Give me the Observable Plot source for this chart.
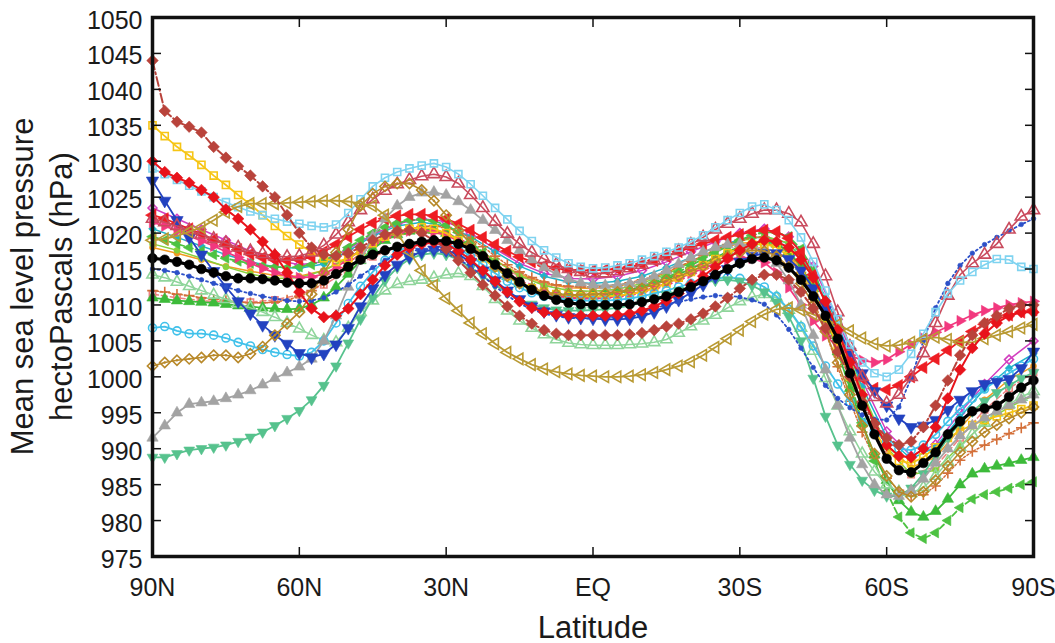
<!DOCTYPE html>
<html><head><meta charset="utf-8">
<script src="https://cdn.jsdelivr.net/npm/d3@7"></script>
<script src="https://cdn.jsdelivr.net/npm/@observablehq/plot@0.6"></script>
<style>html,body{margin:0;padding:0;background:#fff;}</style>
</head><body><div id="chart"></div>
<script>
// ---- grids, ticks, labels ----
const lat25 = d3.range(73).map(i => 90 - 2.5 * i);
const lat5 = d3.range(37).map(i => 90 - 5 * i);
const yTicks = d3.range(975, 1051, 5);
const xTicks = [90, 60, 30, 0, -30, -60, -90];
const xTickLabels = ["90N", "60N", "30N", "EQ", "30S", "60S", "90S"];
const yLabel = ["Mean sea level pressure", "hectoPascals (hPa)"];
const xLabel = "Latitude";

// ---- series values (hPa), 2.5 degree grid from 90N to 90S ----
const multiModelMean = [
1016.5,1016.3,1016,1015.6,1015,1014.5,1014,1013.7,1013.7,1013.6,1013.4,1013.1,
1013,1013,1013.4,1014.3,1015.3,1016.3,1017,1017.6,1018.1,1018.5,1018.8,1019,
1018.9,1018.5,1017.8,1016.8,1015.6,1014.4,1013.2,1012.1,1011.3,1010.7,1010.3,1010.1,
1010,1010,1010,1010.1,1010.4,1010.8,1011.2,1011.8,1012.5,1013.3,1014.2,1015,
1015.8,1016.4,1016.6,1016.2,1015.2,1013.5,1011.2,1008.5,1005.3,1000.5,996,992,
988.6,987,986.7,988,989.5,992,993.8,995.2,995.6,996,997.2,998.5,
999.5];
const brownDiamonds = [
1044,1037,1035.5,1034.8,1034,1032,1030.5,1029.3,1028,1026.5,1025,1022.5,
1020,1018,1017,1016.8,1017.2,1018,1019,1019.8,1020.3,1020.4,1020,1019,
1017.8,1016.2,1014.5,1012.8,1011.3,1009.8,1008.5,1007.4,1006.5,1006,1005.8,1005.8,
1005.8,1005.8,1005.8,1005.9,1006.1,1006.5,1007,1007.4,1008,1008.8,1009.8,1011,
1012.3,1013.5,1014.2,1014.2,1013.5,1011.8,1009.5,1006.8,1003.5,1000,996.5,993.5,
991.5,990.5,991,993,996,999.5,1003,1005.8,1007.5,1008.5,1009.5,1010,
1010];
const yellowSquares = [
1035,1033.5,1032,1030.8,1029.5,1028,1026.7,1025.3,1024,1022.5,1021,1019.6,
1018.4,1017.4,1016.5,1016,1016.5,1017.5,1018.6,1019.5,1020.2,1020.6,1020.8,1020.6,
1020,1019,1017.8,1016.5,1015.2,1014,1013,1012.3,1011.8,1011.5,1011.3,1011.2,
1011.2,1011.2,1011.3,1011.5,1011.8,1012.3,1013,1013.8,1014.6,1015.5,1016.4,1017.2,
1017.9,1018.4,1018.5,1018,1016.8,1014.7,1011.8,1008.2,1004.2,1000,996,992.5,
989.8,988.3,988,988.8,990.2,991.5,992.5,993.3,994,994.5,995,995.5,
996];
const redDiamonds = [
1030,1028.5,1027.7,1027,1026,1025,1023.3,1022,1020.5,1018.8,1017,1014.5,
1011.8,1009.5,1008.3,1008.5,1009.5,1011.5,1013.5,1015.5,1017,1018,1018.5,1018.7,
1018.5,1017.5,1016.3,1014.8,1013.3,1011.8,1010.5,1009.6,1009,1008.7,1008.5,1008.5,
1008.5,1008.5,1008.6,1008.8,1009.2,1009.8,1010.6,1011.6,1012.8,1014,1015.3,1016.5,
1017.6,1018.5,1019,1018.8,1018,1016.3,1013.8,1010.5,1006.5,1002,997.5,993.5,
990.5,989,988.8,990,993,997,1001,1004,1006,1007.5,1008.5,1009,
1009];
const blueTriangles = [
1027.3,1024.5,1021.8,1019.4,1017,1014.7,1012.5,1010.5,1008.8,1007.2,1005.8,1004.6,
1003.3,1002.7,1003.2,1004.5,1006.8,1009.8,1012.3,1014.2,1015.6,1016.7,1017.4,1017.7,
1017.6,1017,1016,1014.8,1013.4,1012,1010.8,1009.8,1009.1,1008.6,1008.3,1008.2,
1008.1,1008,1008,1008.1,1008.4,1009,1009.8,1010.7,1011.7,1012.8,1013.9,1015,
1016,1016.8,1017.2,1017.2,1016.4,1014.8,1012.3,1009.3,1006.5,1003.5,1000.5,998,
996,994.2,993,993.2,994,995.4,996.8,998,999,999.3,999.7,1001.2,
1003.5];
const cyanCircles = [
1006.8,1007,1006.4,1006,1006,1005.8,1005.4,1004.8,1004.3,1003.8,1003.4,1003.1,
1002.9,1003.4,1005,1007.5,1010.2,1012.6,1014.6,1016.2,1017.4,1018.2,1018.7,1018.8,
1018.5,1017.8,1016.8,1015.6,1014.4,1013.3,1012.4,1011.7,1011.2,1010.9,1010.7,1010.6,
1010.6,1010.6,1010.7,1010.9,1011.2,1011.6,1012,1012.5,1013,1013.4,1013.7,1013.8,
1013.7,1013.3,1012.5,1011.2,1009.4,1007,1004.3,1001.5,999,996.5,994.3,992.5,
991,990,989.8,990.5,992,993.8,995.5,997,998.3,999.5,1000.5,1001.5,
1002.5];
const oliveDiamonds = [
1001.5,1002,1002.3,1002.5,1002.7,1003,1003,1002.7,1003.2,1004.2,1005.8,1007.4,
1009,1011.5,1014.5,1017.3,1020.5,1023.8,1025.5,1026.5,1026.9,1026.9,1026,1024.5,
1022.5,1020.4,1018.5,1016.8,1015.3,1014,1013,1012.3,1011.8,1011.5,1011.4,1011.4,
1011.5,1011.6,1011.8,1012,1012.3,1012.8,1013.4,1014,1014.7,1015.4,1016.1,1016.8,
1017.3,1017.6,1017.5,1016.8,1015.3,1013,1010,1006.3,1002,997.5,993.2,989.3,
986.2,984,983.3,984,985.6,987.6,989.5,991,992.3,993.3,994.2,995,
995.8];
const grayTriangles = [
991.5,993.2,995,996.2,996.4,996.6,997,997.5,998.1,998.9,999.8,1000.6,
1001.4,1002.5,1005,1008.5,1012.5,1016.3,1019.5,1022,1023.8,1025,1025.6,1025.7,
1025.3,1024.4,1023.2,1021.8,1020.4,1019,1017.6,1016.3,1015.2,1014.3,1013.6,1013.1,
1012.8,1012.7,1012.8,1013,1013.4,1014,1014.8,1015.7,1016.6,1017.4,1018,1018.4,
1018.5,1018.2,1017.4,1015.8,1013.4,1010,1005.8,1001,996,991.5,987.8,985,
983.6,983.4,984.2,985.8,988,990,991.8,993.2,994.3,995.2,996,996.8,
997.5];
const seaGreenTriangles = [
988.8,988.8,989.3,989.8,990,990.2,990.5,991,991.6,992.3,993.2,994.2,
995.3,996.8,998.8,1001.5,1004.7,1008,1011,1013.4,1015.2,1016.4,1017,1017.2,
1017,1016.3,1015.2,1014,1012.8,1011.7,1010.8,1010.1,1009.6,1009.3,1009.2,1009.2,
1009.3,1009.4,1009.6,1009.9,1010.3,1010.8,1011.4,1012,1012.6,1013.1,1013.4,1013.5,
1013.3,1012.7,1011.8,1010.4,1008.4,1005,999.8,994.5,990.5,987.8,985.6,984.2,
983.4,983.4,984.5,986.5,989,991.5,993.6,995.2,996.6,997.8,998.8,999.8,
1000.6];
const goldTriangles = [
1019,1019.2,1019.6,1020.2,1020.8,1021.8,1022.9,1023.7,1024.1,1024.1,1024.1,1024.2,
1024.3,1024.4,1024.5,1024.5,1024.4,1024.1,1023.8,1022.5,1020,1017.4,1014.8,1012.7,
1010.9,1009.2,1007.5,1006,1004.6,1003.4,1002.5,1001.7,1001.1,1000.7,1000.4,1000.2,
1000.1,1000,1000,1000.1,1000.3,1000.6,1001,1001.5,1002.1,1003,1004.1,1005.3,
1006.5,1007.7,1008.7,1009.4,1009.6,1009.3,1008.7,1008,1007.3,1006.4,1005.4,1004.6,
1004.3,1004.4,1004.8,1005.2,1005.5,1005.2,1004.8,1004.8,1005.3,1005.8,1006.3,1006.8,
1007.3];
const lightCyanSquares = [
1029,1028.2,1027.4,1026.6,1025.8,1025,1024.3,1023.6,1023,1022.5,1022,1021.6,
1021.3,1021,1020.8,1021.2,1022.8,1024.7,1026.5,1027.7,1028.5,1029,1029.4,1029.7,
1029.2,1028.2,1026.8,1025.2,1023.5,1021.9,1020.3,1018.9,1017.6,1016.6,1015.8,1015.3,
1015.1,1015.2,1015.5,1015.8,1016.3,1016.8,1017.4,1018,1018.8,1019.7,1020.8,1021.8,
1022.8,1023.7,1024,1023.2,1021.8,1019.4,1016,1012,1008,1004.5,1002,1000.5,
1000,1001,1003.2,1006,1009,1011.6,1013.4,1014.6,1015.6,1016.4,1016.3,1015.3,
1015];
const roseTriangles = [
1022,1021.5,1021,1020.4,1019.8,1019.2,1018.6,1018,1017.5,1017.1,1016.8,1016.7,
1016.8,1017.3,1018.3,1019.8,1021.5,1023.2,1024.7,1025.9,1026.8,1027.4,1027.9,1028.2,
1027.8,1026.9,1025.3,1023.5,1021.6,1019.9,1018.5,1017.3,1016.4,1015.6,1015,1014.6,
1014.4,1014.4,1014.7,1015.1,1015.6,1016.2,1016.8,1017.5,1018.4,1019.4,1020.5,1021.3,
1022,1022.7,1023.2,1023.2,1022.7,1021.5,1018.5,1014,1009,1004.2,1000,997.2,
996.3,997.5,1000,1003.3,1007.5,1011.3,1014.2,1015.8,1017,1018.5,1020.5,1022.3,
1023.2];
const blueDots = [
1015,1014.8,1014.5,1014,1013.5,1013,1012.5,1012,1011.6,1011.2,1010.9,1010.6,
1010.5,1010.6,1011,1011.8,1012.8,1014,1015.2,1016.2,1017,1017.5,1017.7,1017.6,
1017.2,1016.4,1015.3,1014,1012.6,1011.3,1010.2,1009.4,1008.8,1008.4,1008.2,1008.1,
1008.1,1008.2,1008.4,1008.7,1009.1,1009.5,1010,1010.4,1010.8,1011.1,1011.3,1011.3,
1011.1,1010.7,1010.1,1008.6,1006.6,1004,1001.3,998.8,997,995.7,994.7,994.1,
994,995.8,999.8,1005,1009.6,1013,1015.5,1017.2,1018.4,1019.4,1020.3,1021.2,
1022];
const pinkTriangles = [
1021.5,1021,1020.3,1019.6,1018.9,1018.2,1017.4,1016.6,1015.8,1015.1,1014.5,1014,
1013.8,1013.9,1014.3,1015.2,1016.4,1017.6,1018.6,1019.4,1020,1020.3,1020.4,1020.2,
1019.7,1018.9,1017.8,1016.6,1015.3,1014.1,1013.1,1012.3,1011.7,1011.3,1011,1010.9,
1010.9,1011,1011.2,1011.5,1011.9,1012.4,1013,1013.7,1014.4,1015.1,1015.8,1016.3,
1016.6,1016.5,1015.9,1014.5,1012.4,1010,1007.8,1005.7,1004.2,1003,1002.3,1002,
1002.4,1003.5,1004.5,1005.4,1006.2,1007,1007.8,1008.6,1009.2,1009.6,1010,1010.3,
1010.5];
const lightGreenTriangles = [
1014.2,1013.8,1013.2,1012.6,1012,1011.4,1010.8,1010.2,1009.6,1009,1008.3,1007.5,
1006.7,1005.8,1005.1,1004.8,1006.8,1009,1010.6,1012,1012.9,1013.3,1013.5,1013.8,
1014.2,1014.4,1014,1012.6,1010.8,1009.2,1007.8,1006.8,1005.9,1005.2,1004.7,1004.5,
1004.4,1004.4,1004.4,1004.5,1004.6,1004.8,1005.2,1006.1,1007,1007.8,1008.6,1009.6,
1010.5,1011.1,1011.5,1011,1009.3,1006.8,1003.6,999.8,996,992.4,989.3,986.8,
985,984,983.8,984.6,986.2,988.2,990.2,992,993.6,995,996.2,997.2,
998];
const greenTriangles = [
1011,1010.8,1010.6,1010.5,1010.4,1010.3,1010.1,1009.9,1009.8,1009.6,1009.5,1009.4,
1009.5,1010,1011,1012.5,1014.3,1016.2,1017.8,1019,1019.8,1020.3,1020.5,1020.4,
1020,1019.2,1018,1016.6,1015.2,1014,1013,1012.3,1011.8,1011.5,1011.4,1011.4,
1011.5,1011.6,1011.8,1012.1,1012.5,1013,1013.6,1014.3,1015,1015.8,1016.6,1017.4,
1018.1,1018.6,1018.8,1018.5,1017.4,1015.4,1012.3,1008.3,1003.5,998.4,993.5,989.2,
985.6,982.8,981.2,980.5,981.3,983,985,986.5,987.2,987.6,988,988.4,
988.8];
const greenDashed = [
1019.5,1019,1018.5,1018,1017.5,1017,1016.5,1016.1,1015.8,1015.5,1015.3,1015.2,
1015.3,1015.6,1016.2,1017,1018,1019,1020,1020.8,1021.4,1021.8,1021.9,1021.7,
1021.1,1020.1,1018.8,1017.3,1015.8,1014.4,1013.2,1012.3,1011.7,1011.3,1011.1,1011,
1011.1,1011.3,1011.6,1012,1012.5,1013.1,1013.8,1014.6,1015.5,1016.4,1017.3,1018.2,
1019,1019.7,1020.1,1020.1,1019.5,1017.8,1014.8,1010.6,1005.3,999.5,993.6,988.3,
984,980.5,978.3,977.5,978.3,980,981.8,983,983.6,984,984.5,985,
985.4];
const orangePlus = [
1012,1011.8,1011.5,1011.3,1011,1010.8,1010.6,1010.4,1010.3,1010.3,1010.4,1010.7,
1011.2,1012,1013.1,1014.4,1015.8,1017.2,1018.4,1019.4,1020.1,1020.6,1020.9,1021,
1020.8,1020.2,1019.3,1018.1,1016.8,1015.6,1014.6,1013.8,1013.2,1012.8,1012.6,1012.5,
1012.5,1012.6,1012.8,1013.1,1013.5,1014,1014.6,1015.3,1016.1,1016.9,1017.7,1018.4,
1019,1019.4,1019.4,1018.8,1017.2,1014.5,1010.8,1006.3,1001.4,996.6,992.3,988.7,
985.9,984.2,983.4,983.6,984.8,986.6,988.4,989.6,990.5,991.3,992.1,992.9,
993.6];
const redTriangles = [
1022.5,1022,1021.3,1020.6,1019.9,1019.1,1018.4,1017.7,1017.1,1016.6,1016.3,1016.2,
1016.3,1016.7,1017.4,1018.4,1019.5,1020.5,1021.4,1022,1022.4,1022.6,1022.6,1022.4,
1022,1021.3,1020.4,1019.4,1018.4,1017.5,1016.7,1016,1015.5,1015.1,1014.9,1014.8,
1014.8,1014.9,1015,1015.3,1015.7,1016.2,1016.8,1017.4,1018,1018.5,1019,1019.4,
1019.8,1020.2,1020.4,1020.2,1019.3,1017.3,1014.2,1010.3,1006.2,1002.5,999.8,998.4,
998.2,998.8,1000,1001.3,1002.5,1003.7,1005,1006.3,1007.3,1008,1008.6,1009,
1009.3];
// 5 degree grid members
const orangeCircles = [1018,1017.2,1016.3,1015.4,1014.7,1014.1,1014,1014.8,1016.5,1018.4,1019.7,1020.2,1019.8,1018.3,1016.2,1014.3,1013,1012.4,1012.3,1012.6,1013.3,1014.5,1016,1017.5,1018.6,1018.8,1017.3,1012.8,1005.6,997.4,990.5,987.4,988.8,992.8,996.8,999.6,1001.5];
const magentaDiamonds = [1023.5,1022,1020.5,1019,1017.5,1016.3,1015.6,1016,1017.8,1019.8,1021.3,1022,1021.6,1020,1017.8,1015.8,1014.4,1013.7,1013.6,1014,1014.8,1016,1017.4,1018.8,1020,1020.6,1019.5,1015.4,1008,999.5,992.4,989,990.6,995,999,1002.4,1005];
const salmonSquares = [1011.5,1011,1010.6,1010.4,1010.4,1010.7,1011.4,1012.8,1014.8,1016.7,1018,1018.6,1018.4,1017.3,1015.6,1014,1012.8,1012,1011.8,1012,1012.7,1013.8,1015.2,1016.6,1017.7,1018,1016.6,1012.2,1005.2,997,990,986.4,987.5,991.5,995.4,998.4,1000.6];
const tealDiamonds = [1020.6,1019.4,1018.2,1017,1016,1015.3,1015.1,1015.7,1017.5,1019.6,1021,1021.5,1021,1019.5,1017.4,1015.4,1014,1013.2,1013,1013.3,1014,1015.2,1016.6,1018,1019.1,1019.5,1018.6,1014.6,1007.4,998.6,991.6,988.6,990.2,994.4,998.3,1001.2,1003.2];
const limeCircles = [1018.5,1017.6,1016.5,1015.3,1014.3,1013.7,1013.8,1014.8,1016.6,1018.5,1019.8,1020.3,1019.9,1018.4,1016.2,1014.1,1012.7,1012,1011.9,1012.2,1013,1014.3,1015.9,1017.5,1018.9,1019.6,1018.6,1014.2,1006.8,998,990.2,986.4,987,990.4,993.6,995.8,997.4];

// ---- marker shapes ----
function tri(angle) {
  return {draw(ctx, size) {
    const y = -Math.sqrt(size / (Math.sqrt(3) * 3));
    const pts = [[0, 2 * y], [-Math.sqrt(3) * y, -y], [Math.sqrt(3) * y, -y]];
    const c = Math.cos(angle), s = Math.sin(angle);
    pts.forEach(([px, py], i) => {
      const X = px * c - py * s, Y = px * s + py * c;
      i ? ctx.lineTo(X, Y) : ctx.moveTo(X, Y);
    });
    ctx.closePath();
  }};
}
const triUp = tri(0), triDown = tri(Math.PI), triLeft = tri(-Math.PI / 2), triRight = tri(Math.PI / 2);

// ---- series -> style (drawn in this order) ----
const series = [
  {lat: lat5, v: orangeCircles, color: "#f29b21", symbol: "circle", open: false, r: 3, sw: 1.5},
  {lat: lat5, v: magentaDiamonds, color: "#d23fbf", symbol: "diamond2", open: true, r: 4, sw: 1.5},
  {lat: lat5, v: salmonSquares, color: "#ee8080", symbol: "square2", open: true, r: 4, sw: 1.5, dash: "6,3"},
  {lat: lat5, v: tealDiamonds, color: "#1fb3c9", symbol: "diamond2", open: false, r: 3.5, sw: 1.5},
  {lat: lat5, v: limeCircles, color: "#86d13d", symbol: "circle", open: false, r: 3, sw: 1.5},
  {lat: lat25, v: orangePlus, color: "#d4703a", symbol: "plus", open: true, r: 3.5, sw: 1.5, dash: "2,2"},
  {lat: lat25, v: greenTriangles, color: "#3dbb3a", symbol: triUp, open: false, r: 4.2, sw: 1.8},
  {lat: lat25, v: greenDashed, color: "#4dc242", symbol: triLeft, open: false, r: 3.8, sw: 1.8, dash: "6,3"},
  {lat: lat25, v: redTriangles, color: "#ee1d23", symbol: triLeft, open: false, r: 4.5, sw: 1.8},
  {lat: lat25, v: pinkTriangles, color: "#f2387e", symbol: triRight, open: false, r: 4, sw: 1.8},
  {lat: lat25, v: lightGreenTriangles, color: "#8fd59b", symbol: triUp, open: true, r: 4.2, sw: 1.5},
  {lat: lat25, v: yellowSquares, color: "#f6c515", symbol: "square2", open: true, r: 4.5, sw: 1.8},
  {lat: lat25, v: cyanCircles, color: "#40c1ea", symbol: "circle", open: true, r: 4, sw: 1.8},
  {lat: lat25, v: seaGreenTriangles, color: "#56c28d", symbol: triDown, open: false, r: 4, sw: 1.8},
  {lat: lat25, v: grayTriangles, color: "#a3a3a3", symbol: triUp, open: false, r: 4.2, sw: 1.8},
  {lat: lat25, v: blueTriangles, color: "#2242c0", symbol: triDown, open: false, r: 4.6, sw: 1.8},
  {lat: lat25, v: blueDots, color: "#2c50c8", symbol: "circle", open: false, r: 2.3, sw: 1.8, dash: "2,3"},
  {lat: lat25, v: roseTriangles, color: "#c94b5d", symbol: triUp, open: true, r: 4.5, sw: 1.6},
  {lat: lat25, v: lightCyanSquares, color: "#7fd3f0", symbol: "square2", open: true, r: 4.5, sw: 1.6},
  {lat: lat25, v: oliveDiamonds, color: "#b8892a", symbol: "diamond2", open: true, r: 4.6, sw: 1.6, inner: true},
  {lat: lat25, v: goldTriangles, color: "#b99a33", symbol: triLeft, open: true, r: 4.2, sw: 1.8},
  {lat: lat25, v: redDiamonds, color: "#e8131b", symbol: "diamond2", open: false, r: 5.2, sw: 2},
  {lat: lat25, v: brownDiamonds, color: "#b9433b", symbol: "diamond2", open: false, r: 5.2, sw: 2, dash: "9,3,2,3"},
  {lat: lat25, v: multiModelMean, color: "#000000", symbol: "circle", open: false, r: 4.8, sw: 3.2}
];

function rows(s, k) {
  if (s.lat.length !== s.v.length) throw new Error("series " + k + " has " + s.v.length + " values");
  return s.lat.map((l, i) => ({lat: l, p: s.v[i]}));
}

const dataMarks = [];
series.forEach((s, k) => {
  const d = rows(s, k);
  dataMarks.push(Plot.line(d, {x: "lat", y: "p", stroke: s.color, strokeWidth: s.sw, strokeDasharray: s.dash || null}));
  dataMarks.push(Plot.dot(d, {
    x: "lat", y: "p", symbol: s.symbol, r: s.r,
    fill: s.open ? "none" : s.color,
    stroke: s.color,
    strokeWidth: s.open ? 1.6 : 0.6
  }));
  if (s.inner) dataMarks.push(Plot.dot(d, {x: "lat", y: "p", r: 1.2, fill: s.color}));
});

const chart = Plot.plot({
  width: 1055,
  height: 643,
  marginTop: 17,
  marginBottom: 87,
  marginLeft: 152,
  marginRight: 22,
  style: {fontFamily: "'Liberation Sans', Arial, sans-serif", fontSize: "25px", background: "#fff", color: "#1a1a1a"},
  x: {domain: [90, -90]},
  y: {domain: [975, 1050]},
  marks: [
    ...dataMarks,
    Plot.frame({stroke: "#111", strokeWidth: 3.5}),
    Plot.axisY(yTicks, {anchor: "left", tickSize: 0, tickPadding: 10, dy: 3, label: null, fontSize: 25, tickFormat: d => String(d)}),
    Plot.axisX(xTicks, {anchor: "bottom", tickSize: 0, tickPadding: 22, label: null, fontSize: 25,
      tickFormat: d => xTickLabels[xTicks.indexOf(d)]}),
    Plot.axisY(yTicks, {anchor: "left", tickSize: 9, dx: 9, text: null, label: null, stroke: "#111", strokeWidth: 1.5}),
    Plot.axisY(yTicks, {anchor: "right", tickSize: 9, dx: -9, text: null, label: null, stroke: "#111", strokeWidth: 1.5}),
    Plot.axisX(xTicks, {anchor: "bottom", tickSize: 9, dy: -9, text: null, label: null, stroke: "#111", strokeWidth: 1.5}),
    Plot.axisX(xTicks, {anchor: "top", tickSize: 9, dy: 9, text: null, label: null, stroke: "#111", strokeWidth: 1.5}),
    Plot.text([xLabel], {text: d => d, frameAnchor: "bottom", dy: 81, fontSize: 31, fill: "#1a1a1a"})
  ]
});
document.getElementById("chart").appendChild(chart);

// rotated two-line y-axis title
const svg = d3.select(chart);
const frameMidY = (17 + (643 - 87)) / 2;
[[33, yLabel[0]], [72, yLabel[1]]].forEach(([bx, t]) => {
  svg.append("text")
    .attr("transform", `translate(${bx},${frameMidY}) rotate(-90)`)
    .attr("text-anchor", "middle")
    .attr("font-family", "'Liberation Sans', Arial, sans-serif")
    .attr("font-size", 31)
    .attr("fill", "#1a1a1a")
    .text(t);
});
</script>
</body></html>
